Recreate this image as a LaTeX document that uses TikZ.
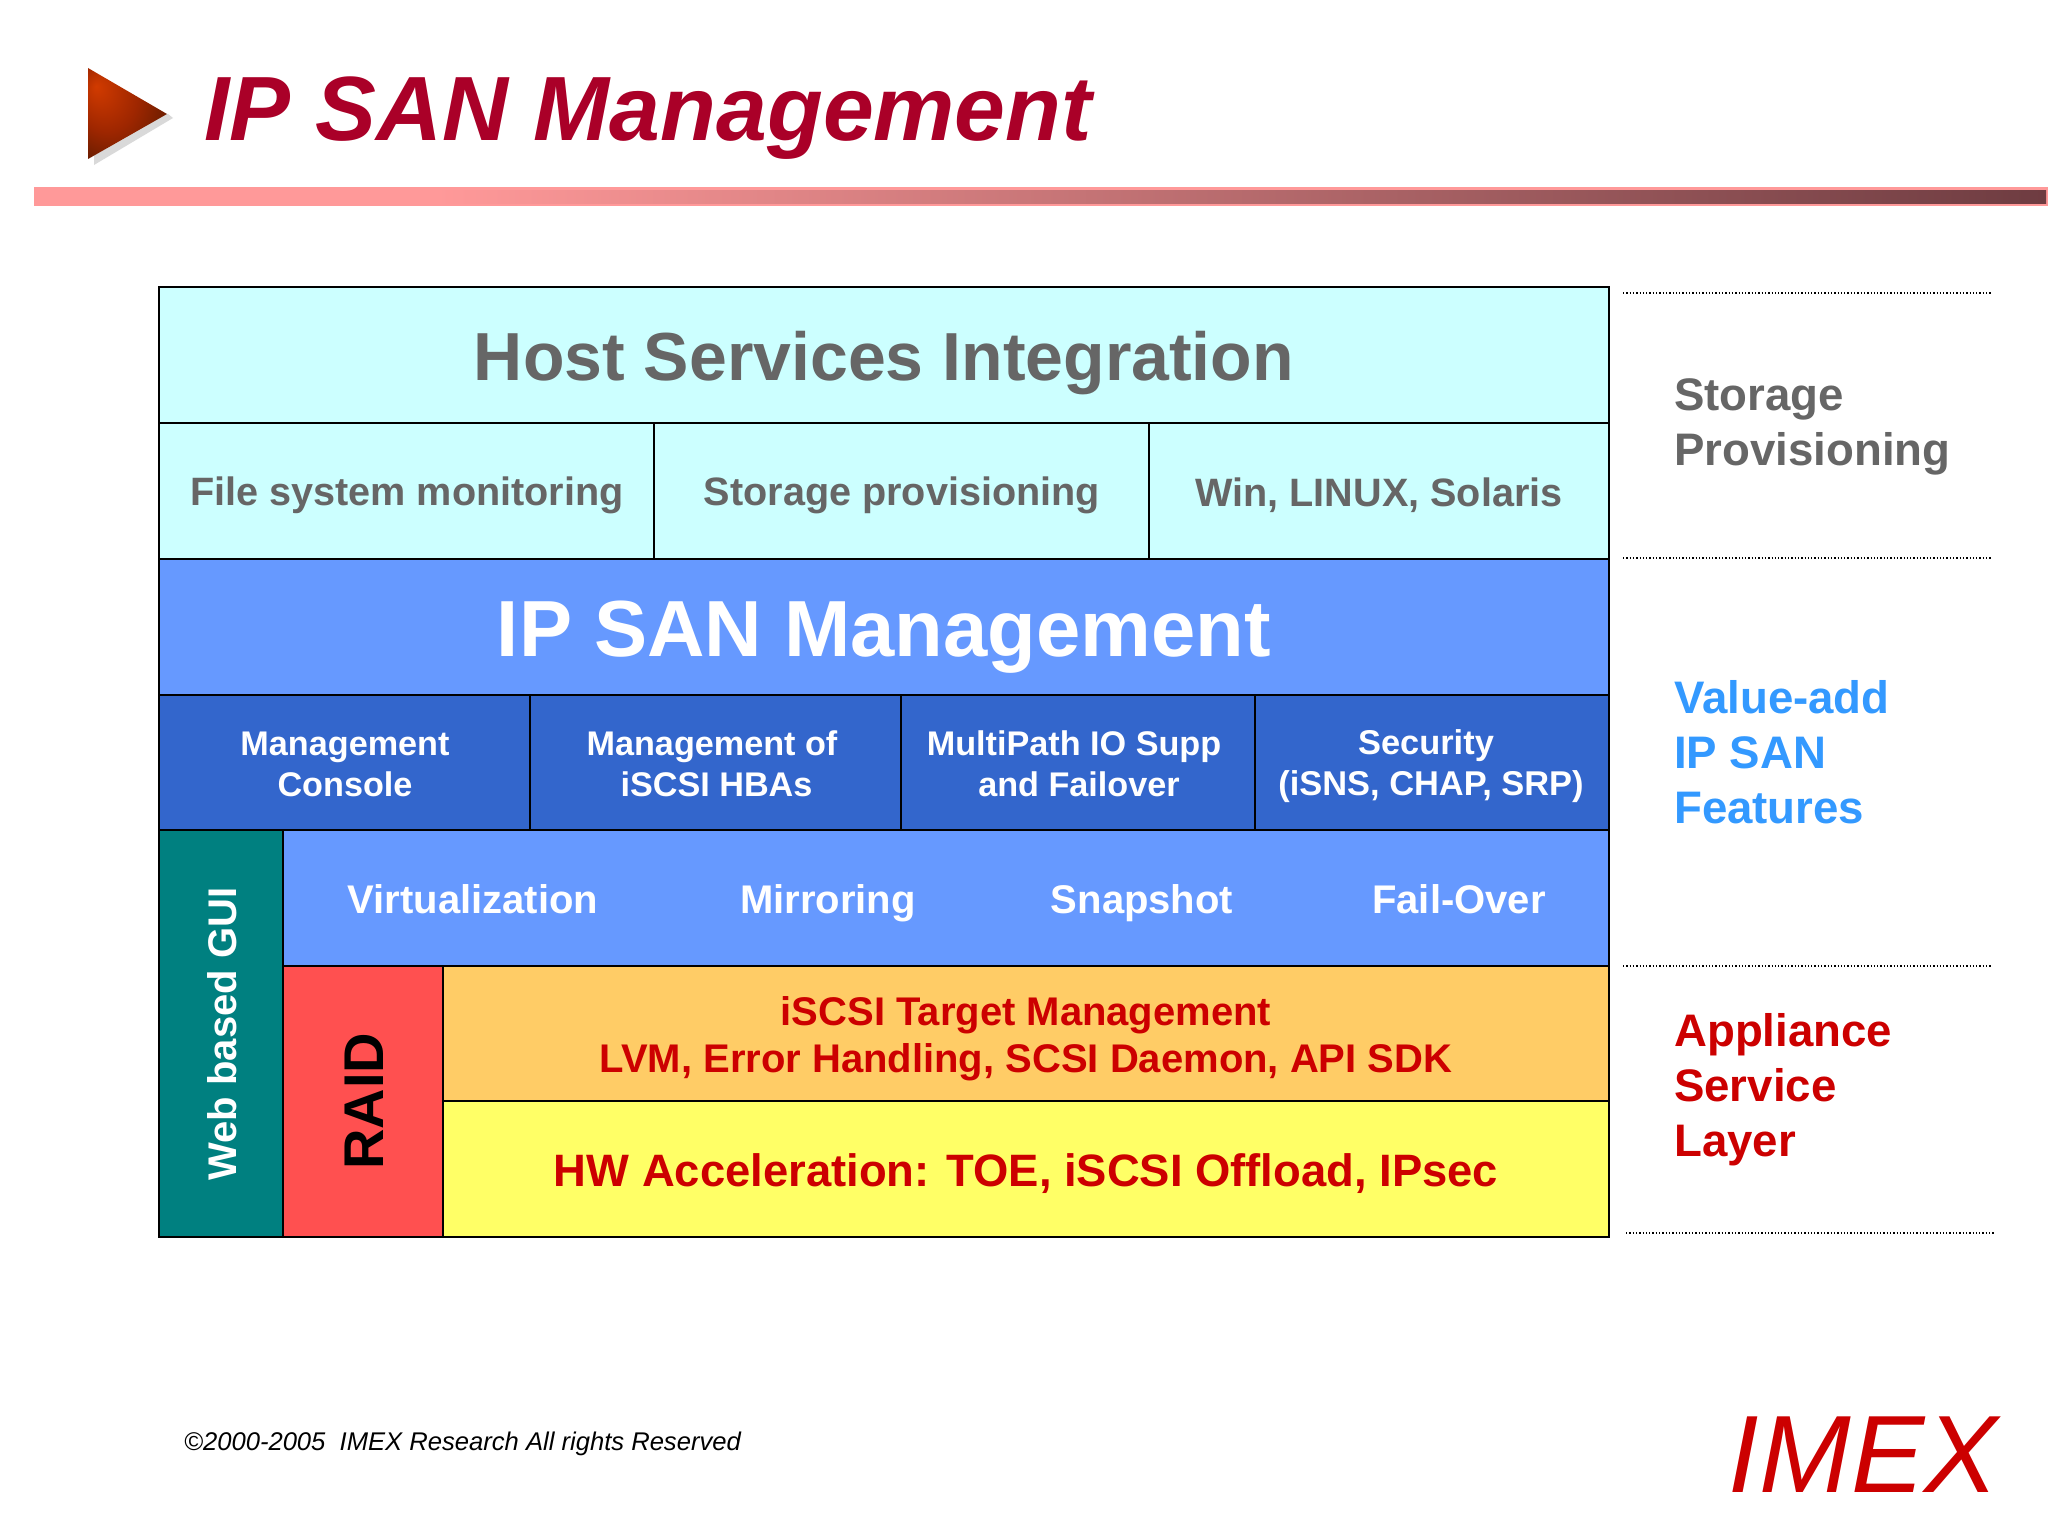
\documentclass[tikz,border=0pt]{standalone}
\usepackage{fontspec}
\setmainfont{Liberation Sans}
\definecolor{cy}{RGB}{204,255,255}
\definecolor{bl}{RGB}{102,153,255}
\definecolor{dbl}{RGB}{51,102,204}
\definecolor{tl}{RGB}{0,128,128}
\definecolor{rd}{RGB}{255,80,80}
\definecolor{org}{RGB}{255,204,102}
\definecolor{yl}{RGB}{255,255,102}
\definecolor{gr}{RGB}{102,102,102}
\definecolor{crim}{RGB}{170,0,40}
\definecolor{red2}{RGB}{204,0,0}
\definecolor{vab}{RGB}{51,153,255}
\definecolor{bar1}{RGB}{255,153,153}
\definecolor{bar2}{RGB}{110,60,65}
\pgfdeclarehorizontalshading{barsh}{100bp}{color(0bp)=(bar1); color(35bp)=(bar1); color(75bp)=(bar2); color(100bp)=(bar2)}
\pgfdeclareradialshading{trish}{\pgfpoint{-20bp}{15bp}}{rgb(0bp)=(.82,.23,0); rgb(20bp)=(.62,.15,0); rgb(40bp)=(.35,.10,0); rgb(60bp)=(.30,.08,0)}
\tikzset{
 cell/.style={draw=black,line width=2.2pt},
 lab/.style={inner sep=0pt,align=center,font=\bfseries},
 sep/.style={draw=black,line width=1.3pt,dotted},
}
\newcommand{\fs}[2]{\fontsize{#1}{#2}\selectfont}
\begin{document}
\begin{tikzpicture}[x=1pt,y=-1pt]
\useasboundingbox (0,0) rectangle (2048,1536);
\fill[white] (0,0) rectangle (2048,1536);
% header
\fill[bar1] (34,187) rectangle (2048,206);
\shade[shading=barsh] (34,190) rectangle (2046,203);
\fill[gray!30] (94,135) -- (168,114) -- (173,118) -- (94,165) -- cycle;
\shade[shading=trish] (88,68) -- (167,114) -- (88,159) -- cycle;
\node[lab,anchor=base west,text=crim,font=\bfseries\itshape\fs{91.3}{92}] (title) at (204,141) {IP SAN Management};
% cells
\draw[cell,fill=cy] (159,287) rectangle (1609,423);
\draw[cell,fill=cy] (159,423) rectangle (654,559);
\draw[cell,fill=cy] (654,423) rectangle (1149,559);
\draw[cell,fill=cy] (1149,423) rectangle (1609,559);
\draw[cell,fill=bl] (159,559) rectangle (1609,695);
\draw[cell,fill=dbl] (159,695) rectangle (530,830);
\draw[cell,fill=dbl] (530,695) rectangle (901,830);
\draw[cell,fill=dbl] (901,695) rectangle (1255,830);
\draw[cell,fill=dbl] (1255,695) rectangle (1609,830);
\draw[cell,fill=bl] (283,830) rectangle (1609,966);
\draw[cell,fill=tl] (159,830) rectangle (283,1237);
\draw[cell,fill=rd] (283,966) rectangle (443,1237);
\draw[cell,fill=org] (443,966) rectangle (1609,1101);
\draw[cell,fill=yl] (443,1101) rectangle (1609,1237);
% labels
\node[lab,text=gr,font=\bfseries\fs{68}{80}] (hsi) at (884,363) {Host Services Integration};
\node[lab,text=gr,font=\bfseries\fs{39.6}{46}] (fsm) at (407,495) {File system monitoring};
\node[lab,text=gr,font=\bfseries\fs{39.6}{46}] (spv) at (902,495) {Storage provisioning};
\node[lab,text=gr,font=\bfseries\fs{39.6}{46}] (win) at (1379,495) {Win, LINUX, Solaris};
\node[lab,text=white,font=\bfseries\fs{79.6}{90}] (ism) at (884,637) {IP SAN Management};
\node[lab,text=white,font=\bfseries\fs{34.2}{41}] (mc) at (345,764) {Management\\Console};
\node[lab,text=white,font=\bfseries\fs{34.2}{41}] (mi) at (712,764) {Management of\\\hspace*{9pt}iSCSI HBAs};
\node[lab,text=white,font=\bfseries\fs{34.2}{41}] (mp) at (1074,764) {MultiPath IO Supp\\\hspace*{10pt}and Failover};
\node[lab,text=white,font=\bfseries\fs{34.4}{41}] (sec) at (1431,766) {Security\hspace*{10pt}\\(iSNS, CHAP, SRP)};
\node[lab,anchor=base,text=white,font=\bfseries\fs{40}{46}] (vi) at (473,913.5) {Virtualization};
\node[lab,anchor=base,text=white,font=\bfseries\fs{40}{46}] (mr) at (828,913.5) {Mirroring};
\node[lab,anchor=base,text=white,font=\bfseries\fs{40}{46}] (sn) at (1142,913.5) {Snapshot};
\node[lab,anchor=base,text=white,font=\bfseries\fs{40}{46}] (fo) at (1459,913.5) {Fail-Over};
\node[lab,text=white,rotate=90,font=\bfseries\fs{40}{46}] (gui) at (222,1034) {Web based GUI};
\node[lab,text=black,rotate=90,font=\bfseries\fs{56}{64}] (raid) at (364,1101) {RAID};
\node[lab,text=red2,font=\bfseries\fs{40}{47}] (it) at (1026,1039) {iSCSI Target Management\\LVM, Error Handling, SCSI Daemon, API SDK};
\node[lab,text=red2,font=\bfseries\fs{45.4}{52}] (hw) at (1026,1174) {HW Acceleration: TOE, iSCSI Offload, IPsec};
% right
\coordinate (a1) at (1623,293);\coordinate (a2) at (1992,293);
\coordinate (b1) at (1623,558);\coordinate (b2) at (1992,558);
\coordinate (c1) at (1623,966);\coordinate (c2) at (1992,966);
\coordinate (d1) at (1626,1233);\coordinate (d2) at (1995,1233);
\draw[sep] (a1)--(a2);\draw[sep] (b1)--(b2);\draw[sep] (c1)--(c2);\draw[sep] (d1)--(d2);
\node[lab,text=gr,anchor=west,align=left,font=\bfseries\fs{45.6}{55}] (r1) at (1674,427) {Storage\\Provisioning};
\node[lab,text=vab,anchor=west,align=left,font=\bfseries\fs{45.6}{55}] (r2) at (1674,752) {Value-add\\IP SAN\\Features};
\node[lab,text=red2,anchor=west,align=left,font=\bfseries\fs{45.6}{55}] (r3) at (1674,1090) {Appliance\\Service\\Layer};
% footer
\node[inner sep=0pt,anchor=base west,font=\itshape\fs{25.6}{30}] (cp) at (184,1450) {©2000-2005\ \ IMEX Research All rights Reserved};
\node[inner sep=0pt,anchor=base east,text=red2,font=\itshape\fs{110}{120}] (imex) at (1998,1492) {IMEX};
\end{tikzpicture}
\end{document}
